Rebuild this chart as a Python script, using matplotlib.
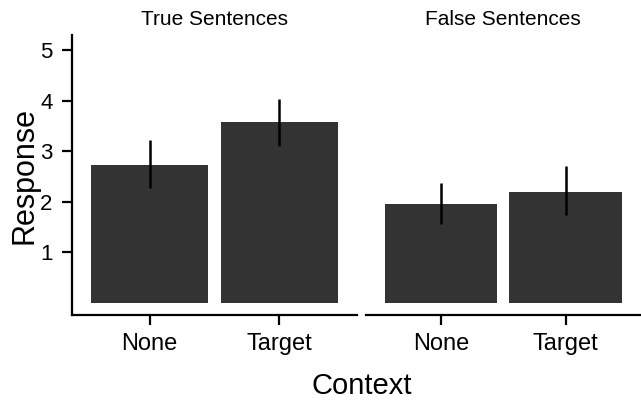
import matplotlib.pyplot as plt

plt.rcParams['font.family'] = ['Liberation Sans', 'DejaVu Sans']

# mean response per context, with interval bounds
contexts = ['None', 'Target']
panels = ['True Sentences', 'False Sentences']
means = {'True Sentences': [2.72, 3.58], 'False Sentences': [1.95, 2.19]}
lower = {'True Sentences': [2.27, 3.11], 'False Sentences': [1.57, 1.73]}
upper = {'True Sentences': [3.23, 4.04], 'False Sentences': [2.37, 2.70]}
y_ticks = [1, 2, 3, 4, 5]

fig = plt.figure(figsize=(6.41, 4.04), dpi=100)
ax_l = fig.add_axes([0.1123, 0.2203, 0.4447, 0.6927])
ax_r = fig.add_axes([0.571, 0.2203, 0.428, 0.6927], sharey=ax_l)

for ax, panel in zip([ax_l, ax_r], panels):
    x = range(len(contexts))
    ax.bar(x, means[panel], width=0.9, color='#333333')
    ax.vlines(x, lower[panel], upper[panel], color='black', linewidth=1.8)
    ax.set_xlim(-0.6, 1.6)
    ax.set_xticks(list(x))
    ax.set_xticklabels(contexts)
    ax.set_title(panel, fontsize=15, pad=7)
    for s in ['top', 'right']:
        ax.spines[s].set_visible(False)
    ax.spines['bottom'].set_linewidth(1.6)
    ax.spines['left'].set_linewidth(1.6)
    ax.tick_params(axis='x', length=7, width=1.6, colors='black', labelsize=17, pad=6)
    ax.tick_params(axis='y', length=7, width=1.6, colors='black', labelsize=16, pad=7)

ax_l.set_ylim(-0.24, 5.3)
ax_l.set_yticks(y_ticks)
ax_l.set_ylabel('Response', fontsize=22)
ax_l.yaxis.set_label_coords(-0.114, 0.5)
ax_r.spines['left'].set_visible(False)
ax_r.tick_params(axis='y', left=False, labelleft=False)

fig.text(0.565, 0.025, 'Context', ha='center', fontsize=21)

fig.savefig('out.png', dpi=100)
